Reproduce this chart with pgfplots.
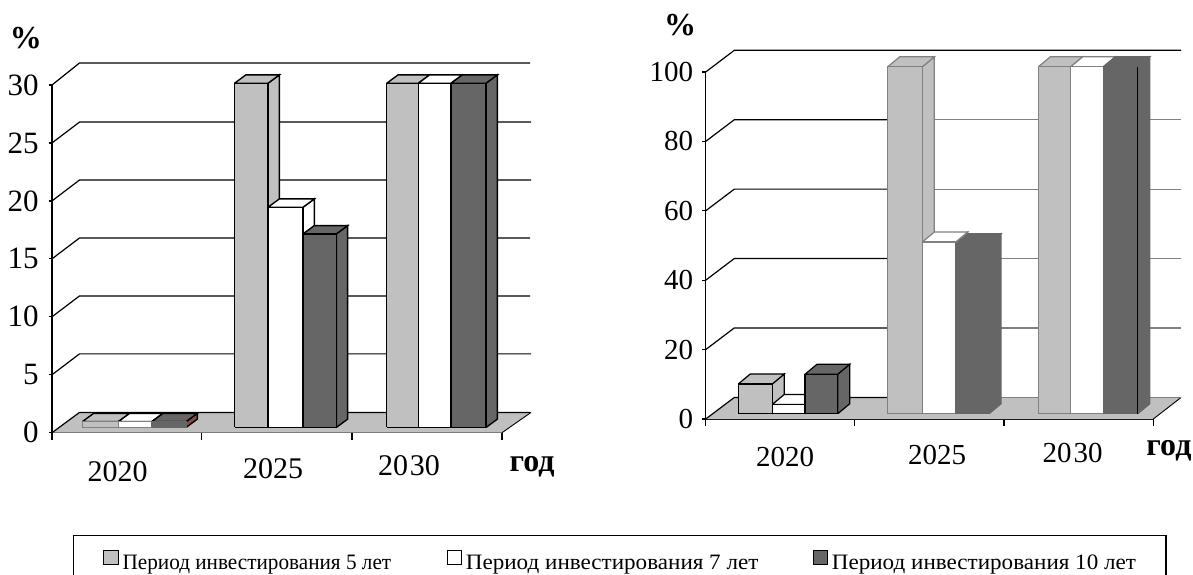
\documentclass[border=0pt]{standalone}
\usepackage{graphicx}
\usepackage{pgfplots}
\pgfplotsset{compat=1.18}
\usepackage{fontspec}
\setmainfont{Liberation Serif}
\definecolor{cgrey}{HTML}{C0C0C0}
\definecolor{cdark}{HTML}{666666}
\definecolor{cedge}{HTML}{808080}
\definecolor{cred}{HTML}{8A4A4A}
\newcommand\fpx[1]{\fontsize{#1}{#1}\selectfont}
% one 3-D bar: x0, x1, value, fill, front edge, side+top edge, side fill
\newcommand\bb[7]{%
  \pgfmathsetmacro\xa{#2+\dxd}\pgfmathsetmacro\xs{#1+\dxd}%
  \pgfmathsetmacro\yt{#3+\base}\pgfmathsetmacro\ytb{\yt+\dyd}\pgfmathsetmacro\yb{\base+\dyd}%
  \edef\temp{\noexpand\addplot[forget plot,fill=#7,draw=#6,line width=\lw] coordinates {(#2,\base)(\xa,\yb)(\xa,\ytb)(#2,\yt)(#2,\base)};
  \noexpand\addplot[forget plot,fill=#4,draw=#6,line width=\lw] coordinates {(#1,\yt)(\xs,\ytb)(\xa,\ytb)(#2,\yt)(#1,\yt)};
  \noexpand\addplot[forget plot,fill=#4,draw=#5,line width=\lw] coordinates {(#1,\base)(#1,\yt)(#2,\yt)(#2,\base)(#1,\base)};}\temp}
\pgfplotsset{common/.style={
  scale only axis, clip=false, axis lines=left, axis line style={-,line width=1.2pt,black},
  x axis line style={-}, y axis line style={-},
  tick style={black,line width=1.2pt},
  x tick style={/pgfplots/major tick length=7pt},
  y tick style={/pgfplots/major tick length=3.5pt},
  tick align=outside,
  y tick label style={inner sep=0pt},
  x tick label style={inner sep=0pt},
  /pgf/number format/assume math mode=true,
  extra x tick style={tick style={draw=none},/pgfplots/major tick length=7pt},
  xticklabels={},
  enlargelimits=false,
}}
\begin{document}
\begin{tikzpicture}[x=1pt,y=1pt]
\path[use as bounding box] (0,0) rectangle (1193,574);
\begin{axis}[common,
  at={(52pt,141.3pt)},anchor=south west,
  width=450pt,height=347.7pt,
  xmin=52,xmax=502,ymin=0,ymax=30,
  xtick={52,201.5,352,502},
  ytick={0,5,10,15,20,25,30},
  y tick label style={xshift=-9pt,font=\fpx{31}},
  x tick label style={font=\fpx{30}},
  extra x ticks={117.5,273,409},
  extra x tick labels={{\rule{0pt}{42pt}2020},{\rule{0pt}{39pt}2025},{\rule{0pt}{36pt}20\kern2pt 30}},
  ylabel={\%},
  every axis y label/.style={at={(axis description cs:-0.0578,1.1064)},anchor=base,rotate=0,font=\fpx{32}\bfseries},
  xlabel={год},
  every axis x label/.style={at={(axis description cs:1.0667,-0.113)},anchor=base,font=\fpx{32}\bfseries},
  legend columns=3,
  legend cell align=left,
  legend image code/.code={\draw[#1] (0pt,-1pt) rectangle (14.3pt,13pt);},
  legend style={
    at={(axis description cs:0.0473,-0.2942)},anchor=north west,
    draw=black,line width=1.2pt,font=\fpx{22},
    inner xsep=29.4pt,inner ysep=14pt,
    nodes={inner sep=0pt},
    /tikz/column sep=4pt,
  },
]
\def\base{0.45}\def\dxd{11.3}\def\dyd{0.72}\def\lw{1.4pt}
\addlegendimage{fill=cgrey,draw=black,line width=1pt}
\addlegendimage{fill=white,draw=black,line width=1pt}
\addlegendimage{fill=cdark,draw=black,line width=1pt}
% floor
\addplot[forget plot,fill=cgrey,draw=none] coordinates {(52,0)(79.5,1.75)(531,1.75)(502,0)(52,0)};
\addplot[forget plot,black,line width=0.9pt] coordinates {(502,0)(531,1.75)};
% walls
\addplot[forget plot,black,line width=1.2pt] coordinates {(52,0)(79.5,1.75)(530,1.75)};
\addplot[forget plot,black,line width=1.2pt] coordinates {(52,5)(79.5,6.8)(531,6.8)};
\addplot[forget plot,black,line width=1.2pt] coordinates {(52,10)(79.5,11.8)(530,11.8)};
\addplot[forget plot,black,line width=1.2pt] coordinates {(52,15)(79.5,16.8)(530,16.8)};
\addplot[forget plot,black,line width=1.2pt] coordinates {(52,20)(79.5,21.8)(531,21.8)};
\addplot[forget plot,black,line width=1.2pt] coordinates {(52,25)(79.5,26.8)(531,26.8)};
\addplot[forget plot,black,line width=1.2pt] coordinates {(52,30)(79.5,31.9)(530,31.9)};
% 2020
\bb{82.3}{118.3}{0.5}{cgrey}{cedge}{black}{cgrey}
\bb{118.3}{151.7}{0.5}{white}{cedge}{black}{white}
\bb{151.7}{186}{0.5}{cdark}{cdark}{black}{cred}
% 2025
\bb{234.5}{268}{29.7}{cgrey}{black}{black}{cgrey}
\bb{268}{303}{19.0}{white}{black}{black}{white}
\bb{303}{336.3}{16.7}{cdark}{black}{black}{cdark}
% 2030
\bb{386.7}{418.3}{29.7}{cgrey}{black}{black}{cgrey}
\bb{418.3}{451}{29.7}{white}{black}{black}{white}
\bb{451}{486}{29.7}{cdark}{black}{black}{cdark}
\legend{\makebox[320pt][l]{\scalebox{0.964}[1]{Период инвестирования 5 лет}},\makebox[342.7pt][l]{\scalebox{1.05}[1]{Период инвестирования 7 лет}},\makebox[304.6pt][l]{\scalebox{1.05}[1]{Период инвестирования 10 лет}}}
\end{axis}
\begin{axis}[common,
  at={(705.7pt,155pt)},anchor=south west,
  width=447.6pt,height=347pt,
  xmin=705.7,xmax=1153.3,ymin=0,ymax=100,
  xtick={705.7,854.3,1004,1153.3},
  ytick={0,20,40,60,80,100},
  y tick label style={xshift=-8pt,font=\fpx{29}},
  x tick label style={font=\fpx{29}},
  extra x ticks={785,937,1072.7},
  extra x tick labels={{\rule{0pt}{40pt}2020},{\rule{0pt}{38pt}2025},{\rule{0pt}{36pt}20\kern2pt 30}},
  ylabel={\%},
  every axis y label/.style={at={(axis description cs:-0.0574,1.1066)},anchor=base,rotate=0,font=\fpx{32}\bfseries},
  xlabel={год},
  every axis x label/.style={at={(axis description cs:1.035,-0.1066)},anchor=base,font=\fpx{32}\bfseries},
]
\def\base{1.5}\def\dxd{12}\def\dyd{2.88}\def\lw{1.2pt}
\addplot[forget plot,fill=cgrey,draw=none] coordinates {(705.7,0)(734.3,6.2)(1181,6.2)(1153.3,0)(705.7,0)};
\addplot[forget plot,black,line width=0.9pt] coordinates {(1153.3,0)(1181,6.2)};
\addplot[forget plot,black,line width=1.2pt] coordinates {(705.7,0)(734.3,6.2)(900,6.2)};
\addplot[forget plot,cedge,line width=1.2pt] coordinates {(900,6.2)(1181,6.2)};
\addplot[forget plot,black,line width=1.2pt] coordinates {(705.7,20)(734.3,26.25)(900,26.25)};
\addplot[forget plot,cedge,line width=1.2pt] coordinates {(900,26.25)(1181,26.25)};
\addplot[forget plot,black,line width=1.2pt] coordinates {(705.7,40)(734.3,46.25)(900,46.25)};
\addplot[forget plot,cedge,line width=1.2pt] coordinates {(900,46.25)(1181,46.25)};
\addplot[forget plot,black,line width=1.2pt] coordinates {(705.7,60)(734.3,66.25)(900,66.25)};
\addplot[forget plot,cedge,line width=1.2pt] coordinates {(900,66.25)(1181,66.25)};
\addplot[forget plot,black,line width=1.2pt] coordinates {(705.7,80)(734.3,86.25)(900,86.25)};
\addplot[forget plot,cedge,line width=1.2pt] coordinates {(900,86.25)(1181,86.25)};
\addplot[forget plot,black,line width=1.2pt] coordinates {(705.7,100)(734.3,106.25)(1181,106.25)};
% 2020
\bb{738.3}{772.3}{8.6}{cgrey}{black}{black}{cgrey}
\bb{772.3}{805}{2.7}{white}{black}{black}{white}
\bb{805}{837.7}{11.4}{cdark}{black}{black}{cdark}
% 2025
\bb{887.7}{922.3}{100}{cgrey}{cedge}{cedge}{cgrey}
\bb{922.3}{955.7}{49.5}{white}{cedge}{cedge}{white}
\bb{955.7}{989}{49}{cdark}{cdark}{cdark}{cdark}
% 2030
\bb{1038.3}{1070.7}{100}{cgrey}{cedge}{cedge}{cgrey}
\bb{1070.7}{1103.3}{100}{white}{cedge}{cedge}{white}
\bb{1103.3}{1137.7}{100}{cdark}{cdark}{cdark}{cdark}
\addplot[forget plot,black,line width=1.2pt] coordinates {(1137.7,1.5)(1137.7,101.5)};
\end{axis}
\end{tikzpicture}
\end{document}
